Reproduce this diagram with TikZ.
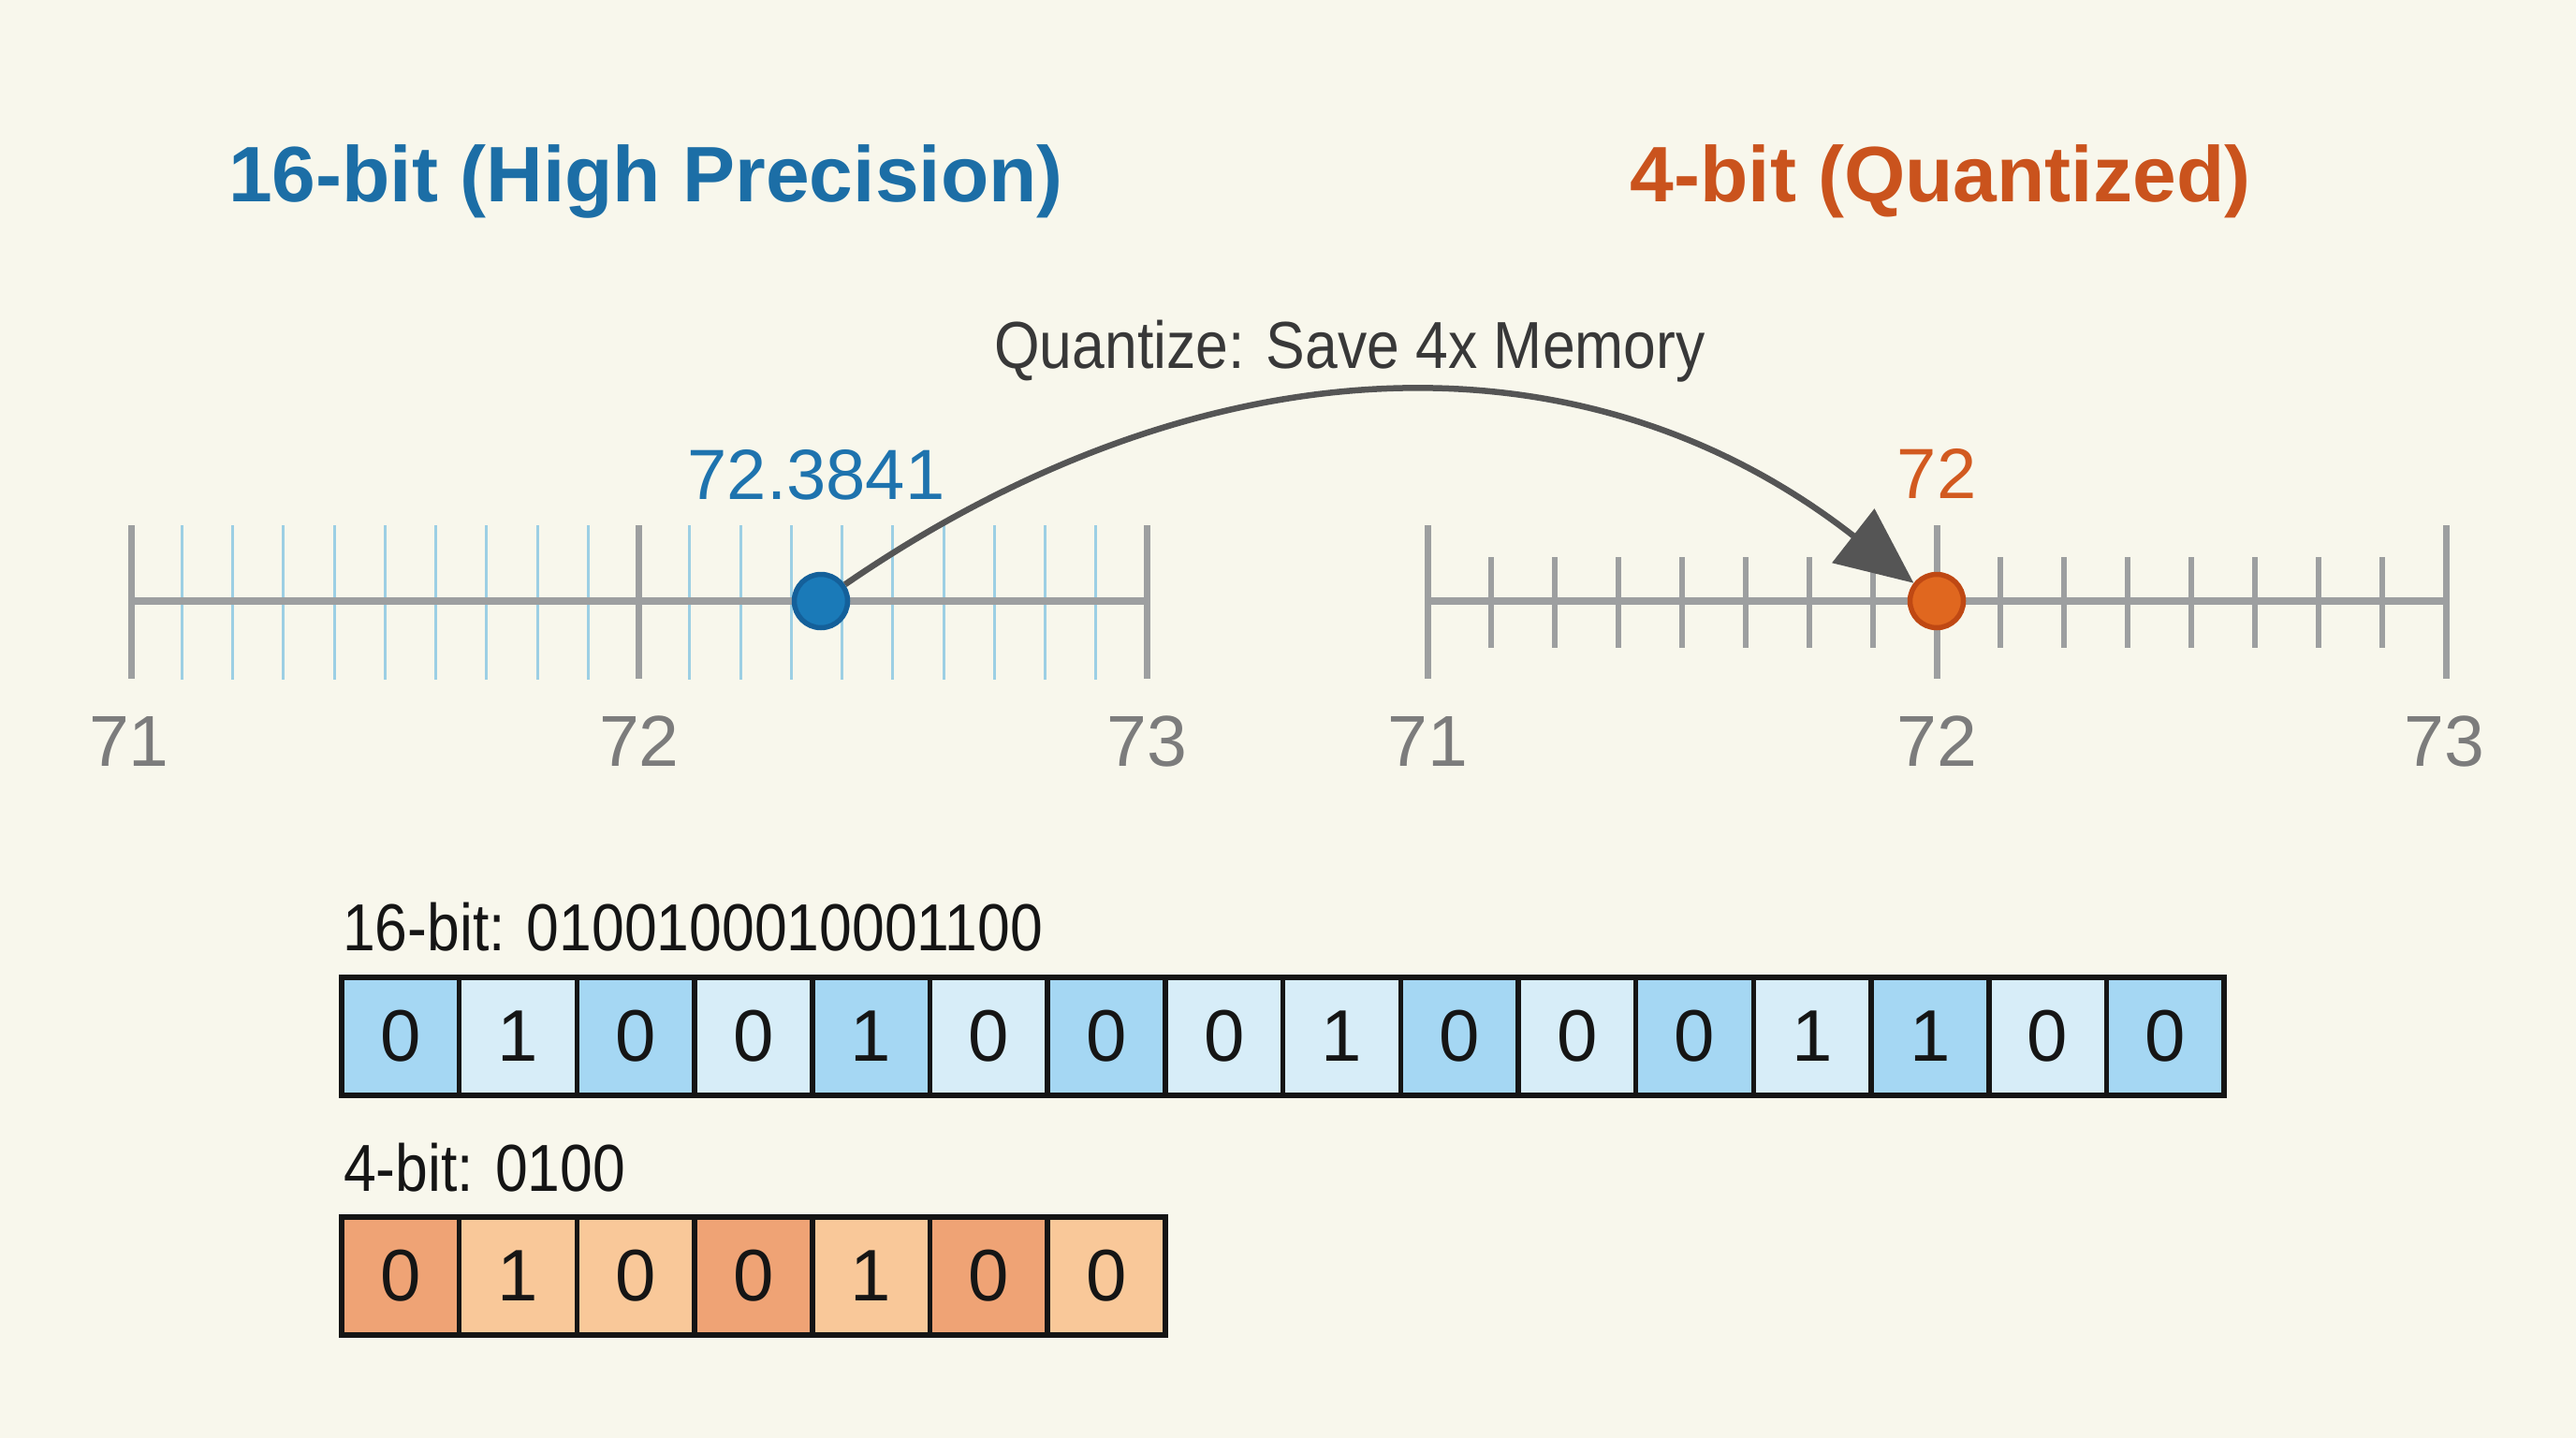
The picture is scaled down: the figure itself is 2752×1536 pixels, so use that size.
\documentclass[tikz,border=0pt]{standalone}
\usepackage{fontspec}
\setmainfont{Liberation Sans}
\newfontfamily\condfont[FakeStretch=0.88]{Liberation Sans}
\usetikzlibrary{arrows.meta}
\definecolor{bg}{HTML}{F8F7EC}
\definecolor{tblue}{HTML}{1C6EA6}
\definecolor{torange}{HTML}{CA531D}
\definecolor{vblue}{HTML}{1E73AE}
\definecolor{vorange}{HTML}{D25A20}
\definecolor{lblgray}{HTML}{7C7C7C}
\definecolor{axisgray}{HTML}{9D9FA0}
\definecolor{minorblue}{HTML}{9CCFE4}
\definecolor{arrowgray}{HTML}{555555}
\definecolor{cellblueD}{HTML}{A5D7F3}
\definecolor{cellblueL}{HTML}{D7EDF8}
\definecolor{cellorD}{HTML}{EFA375}
\definecolor{cellorL}{HTML}{F9C899}
\definecolor{dotblue}{HTML}{1A7AB8}
\definecolor{dotblueB}{HTML}{14609A}
\definecolor{dotor}{HTML}{E0671F}
\definecolor{dotorB}{HTML}{BF4813}
\definecolor{ink}{HTML}{151515}
\begin{document}
\begin{tikzpicture}[x=1pt,y=-1pt,
  titletext/.style={inner sep=0pt, anchor=base, font=\fontsize{84}{100}\selectfont\bfseries},
  valtext/.style={inner sep=0pt, anchor=base, font=\fontsize{76}{90}\selectfont},
  axlabel/.style={inner sep=0pt, anchor=base, text=lblgray, font=\fontsize{77}{90}\selectfont},
  condtext/.style={inner sep=0pt, font=\condfont\fontsize{71}{85}\selectfont},
  axisline/.style={draw=axisgray, line width=8.5pt},
  majortick/.style={draw=axisgray, line width=7pt},
  minortickL/.style={draw=minorblue, line width=3pt},
  minortickR/.style={draw=axisgray, line width=6.5pt},
  dotnode/.style={circle, inner sep=0pt, minimum size=57pt, line width=5.5pt},
  cellbox/.style={draw=ink, line width=5.5pt, inner sep=0pt, minimum width=125.7pt, minimum height=126pt, text=ink, font=\fontsize{78}{90}\selectfont},
  qarrow/.style={draw=arrowgray, line width=6.5pt, -{Triangle[length=82pt, width=72pt]}}
]
\fill[bg] (0,0) rectangle (2752,1536);
\useasboundingbox (0,0) rectangle (2752,1536);

% titles
\node[titletext, text=tblue] (t16) at (690,215) {16-bit (High Precision)};
\node[titletext, text=torange] (t4) at (2073,215) {4-bit (Quantized)};

% left number line
\foreach \i in {1,...,9,11,12,...,19} {
  \draw[minortickL] ({140+\i*54.25},561) -- ({140+\i*54.25},726);
}
\draw[axisline] (140,642) -- (1225,642);
\foreach \x in {140,682.5,1225} {
  \draw[majortick] (\x,561) -- (\x,725);
}
% right number line
\draw[axisline] (1525,642) -- (2613,642);
\foreach \i in {1,...,7,9,10,...,15} {
  \draw[minortickR] ({1525+\i*68},595) -- ({1525+\i*68},692);
}
\foreach \x in {1525,2069,2613} {
  \draw[majortick] (\x,561) -- (\x,725);
}

% axis labels
\node[axlabel] (l71) at (138,818) {71};
\node[axlabel] (l72) at (683,818) {72};
\node[axlabel] (l73) at (1225,818) {73};
\node[axlabel] (r71) at (1525,818) {71};
\node[axlabel] (r72) at (2069,818) {72};
\node[axlabel] (r73) at (2611,818) {73};

% values
\node[valtext, text=vblue] (vhigh) at (872,533) {72.3841};
\node[valtext, text=vorange] (vlow) at (2069,532) {72};

% dots
\node[dotnode, fill=dotblue, draw=dotblueB] (bdot) at (877,642) {};
\node[dotnode, fill=dotor, draw=dotorB] (odot) at (2069,642) {};

% arrow
\draw[qarrow] (bdot) .. controls (1274,369) and (1683,340) .. (odot);
\node[condtext, anchor=base, text=ink!85!white] (qlabel) at (1442,393) {Quantize: Save 4x Memory};

% bit rows
\node[condtext, anchor=base west, text=ink] (lab16) at (366,1015) {16-bit: 0100100010001100};
\foreach \b/\c [count=\i] in {0/D,1/L,0/D,0/L,1/D,0/L,0/D,0/L,1/L,0/D,0/L,0/D,1/L,1/D,0/L,0/D} {
  \node[cellbox, fill=cellblue\c] (c\i) at ({365+(\i-0.5)*125.7},1107) {\b};
}
\node[condtext, anchor=base west, text=ink] (lab4) at (367,1272) {4-bit: 0100};
\foreach \b/\c [count=\i] in {0/D,1/L,0/L,0/D,1/L,0/D,0/L} {
  \node[cellbox, fill=cellor\c] (q\i) at ({365+(\i-0.5)*125.7},1363) {\b};
}
\end{tikzpicture}
\end{document}
